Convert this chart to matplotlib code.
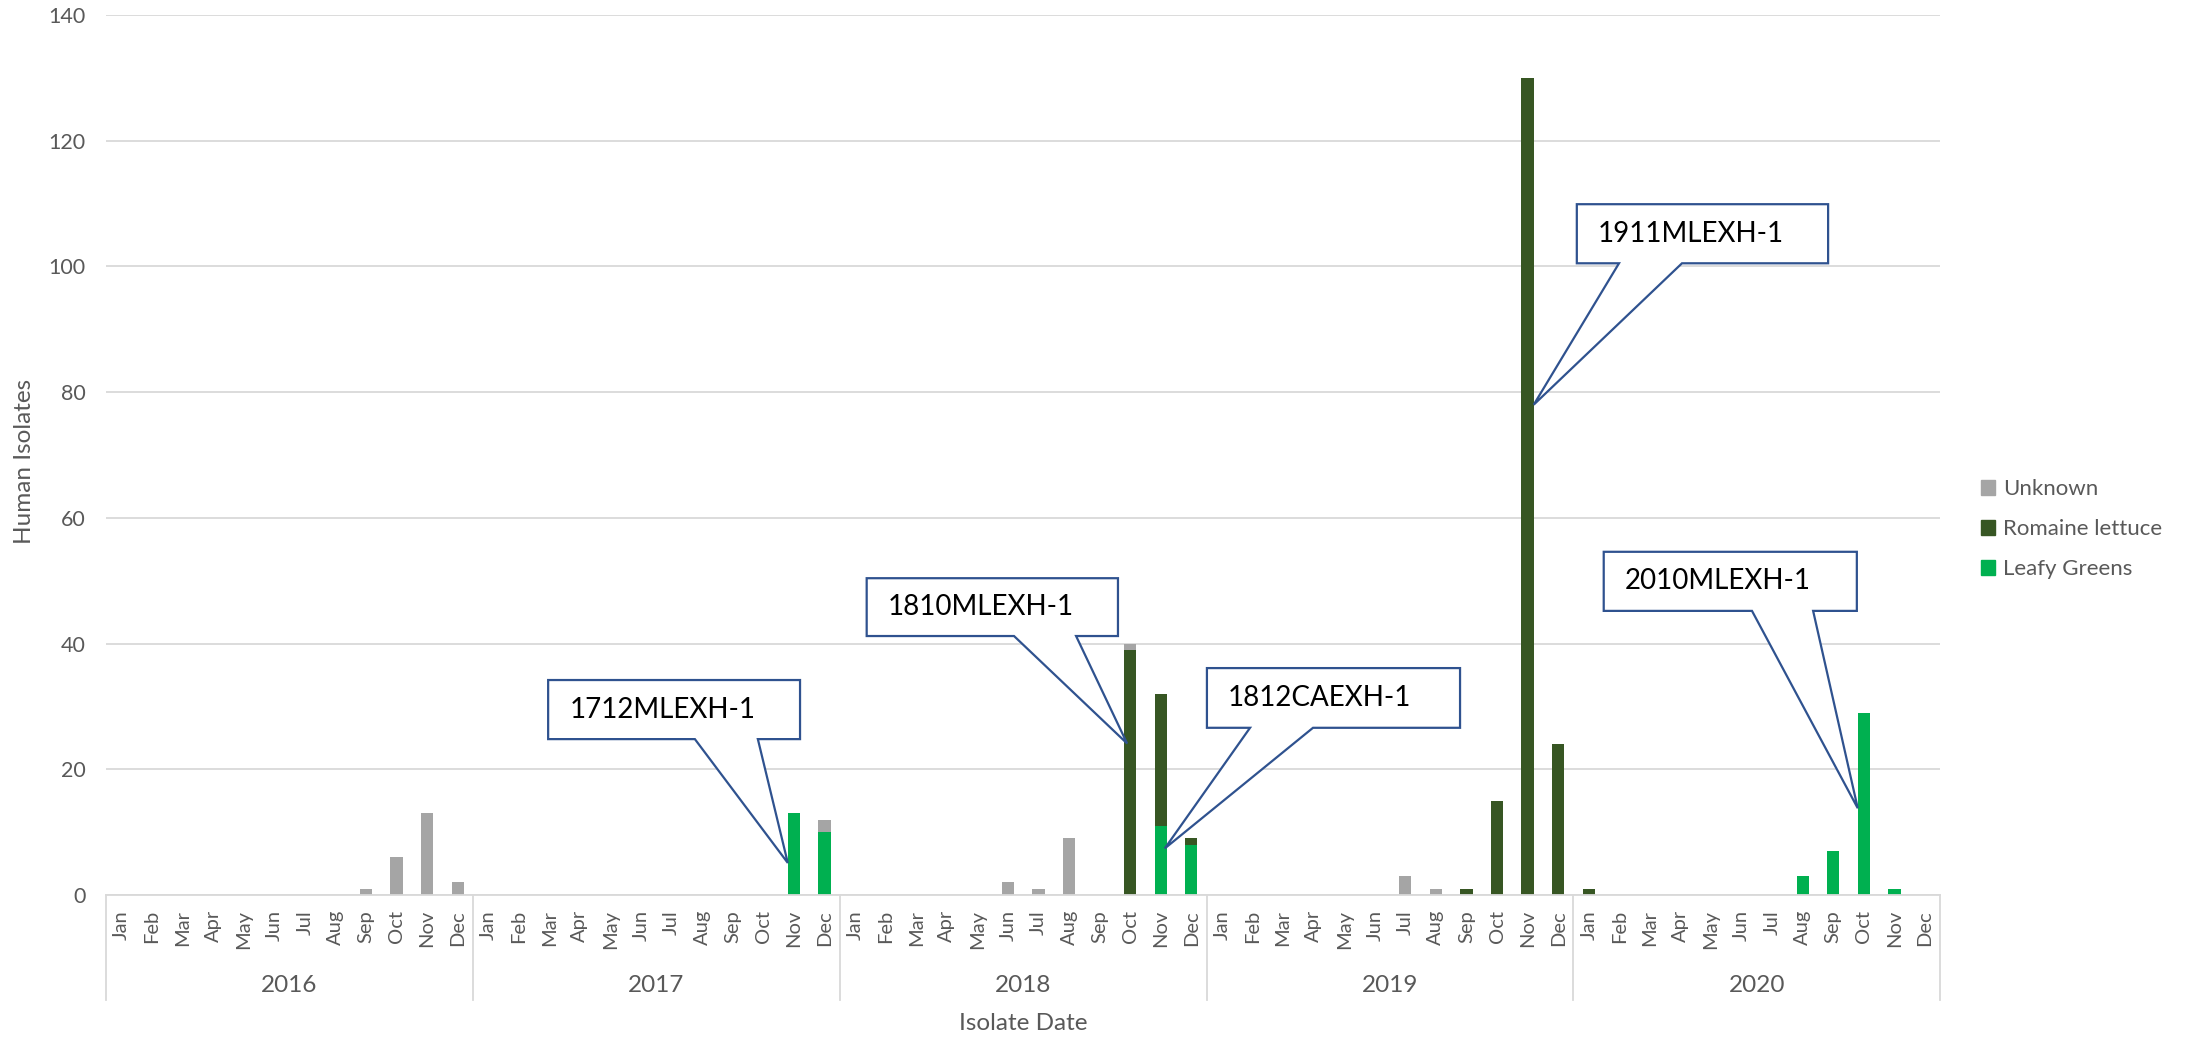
import numpy as np
import matplotlib
matplotlib.use("Agg")
import matplotlib.pyplot as plt
from matplotlib.patches import Polygon, Patch
from matplotlib.transforms import blended_transform_factory

plt.rcParams['font.family'] = ['Lato', 'DejaVu Sans']

# datos por mes, ene 2016 .. dic 2020
years = ['2016', '2017', '2018', '2019', '2020']
months = ['Jan', 'Feb', 'Mar', 'Apr', 'May', 'Jun',
          'Jul', 'Aug', 'Sep', 'Oct', 'Nov', 'Dec']

leafy_greens = (
    [0, 0, 0, 0, 0, 0, 0, 0, 0, 0, 0, 0] +      # 2016
    [0, 0, 0, 0, 0, 0, 0, 0, 0, 0, 13, 10] +    # 2017
    [0, 0, 0, 0, 0, 0, 0, 0, 0, 0, 11, 8] +     # 2018
    [0, 0, 0, 0, 0, 0, 0, 0, 0, 0, 0, 0] +      # 2019
    [0, 0, 0, 0, 0, 0, 0, 3, 7, 29, 1, 0]       # 2020
)
romaine = (
    [0, 0, 0, 0, 0, 0, 0, 0, 0, 0, 0, 0] +
    [0, 0, 0, 0, 0, 0, 0, 0, 0, 0, 0, 0] +
    [0, 0, 0, 0, 0, 0, 0, 0, 0, 39, 21, 1] +
    [0, 0, 0, 0, 0, 0, 0, 0, 1, 15, 130, 24] +
    [1, 0, 0, 0, 0, 0, 0, 0, 0, 0, 0, 0]
)
unknown = (
    [0, 0, 0, 0, 0, 0, 0, 0, 1, 6, 13, 2] +
    [0, 0, 0, 0, 0, 0, 0, 0, 0, 0, 0, 2] +
    [0, 0, 0, 0, 0, 2, 1, 9, 0, 1, 0, 0] +
    [0, 0, 0, 0, 0, 0, 3, 1, 0, 0, 0, 0] +
    [0, 0, 0, 0, 0, 0, 0, 0, 0, 0, 0, 0]
)

# callouts: texto, punta (x, y), caja (x0, x1, y_abajo, y_arriba), base de la cuña (xa, xb)
callout_labels = ['1712MLEXH-1', '1810MLEXH-1', '1812CAEXH-1', '1911MLEXH-1', '2010MLEXH-1']
callout_tips = [(21.8, 5.1), (32.9, 24.1), (34.13, 7.4), (46.2, 78.0), (56.8, 13.8)]
callout_boxes = [(13.96, 22.20, 24.8, 34.2), (24.38, 32.60, 41.2, 50.4),
                 (35.51, 43.79, 26.6, 36.1), (47.61, 55.83, 100.5, 109.9),
                 (48.49, 56.77, 45.2, 54.6)]
callout_bases = [(18.76, 20.82), (29.20, 31.23), (36.92, 38.98),
                 (48.99, 51.05), (53.34, 55.34)]

c_unknown = '#A5A5A5'
c_romaine = '#375623'
c_leafy = '#00B050'
c_text = '#595959'
c_grid = '#D9D9D9'
c_call = '#2F528F'

W, H = 2190, 1040
fig = plt.figure(figsize=(W / 100, H / 100), dpi=100)
ax = fig.add_axes([106.1 / W, 1 - 895 / H, (1940.3 - 106.1) / W, 880 / H])

x = np.arange(len(leafy_greens))
leafy = np.array(leafy_greens)
rom = np.array(romaine)
unk = np.array(unknown)
bw = 0.4
ax.bar(x, leafy, bw, color=c_leafy, zorder=2)
ax.bar(x, rom, bw, bottom=leafy, color=c_romaine, zorder=2)
ax.bar(x, unk, bw, bottom=leafy + rom, color=c_unknown, zorder=2)

ax.set_xlim(-0.5, len(x) - 0.5)
ax.set_ylim(0, 140)
ax.set_yticks(np.arange(0, 141, 20))
ax.yaxis.grid(True, color=c_grid, lw=1.3, zorder=0)
ax.set_axisbelow(True)
for s in ['top', 'right', 'left']:
    ax.spines[s].set_visible(False)
ax.spines['bottom'].set_color(c_grid)
ax.spines['bottom'].set_linewidth(1.3)
ax.tick_params(axis='y', length=0, pad=15, labelsize=15.5, labelcolor=c_text)
ax.set_xticks([])

# etiquetas de meses y años
trans = blended_transform_factory(ax.transData, ax.transAxes)
for i in x:
    ax.text(i, -15 / 880, months[i % 12], transform=trans, rotation=90,
            ha='center', va='top', fontsize=14.5, color=c_text)
for k, yr in enumerate(years):
    ax.text(k * 12 + 5.5, -91 / 880, yr, transform=trans, ha='center',
            va='center', fontsize=17.5, color=c_text)
for k in range(len(years) + 1):
    ax.plot([k * 12 - 0.5] * 2, [0, -105 / 880], transform=trans,
            color=c_grid, lw=1.3, clip_on=False)

fig.text(25 / W, 1 - 461 / H, 'Human Isolates', rotation=90, ha='center',
         va='center', fontsize=17.5, color=c_text)
fig.text(1023 / W, 1 - 1024 / H, 'Isolate Date', ha='center', va='center',
         fontsize=17.5, color=c_text)

# callouts
for lab, tip, box, base in zip(callout_labels, callout_tips, callout_boxes, callout_bases):
    x0, x1, y0, y1 = box
    pts = [(x0, y1), (x1, y1), (x1, y0), (base[1], y0), tip, (base[0], y0), (x0, y0)]
    ax.add_patch(Polygon(pts, closed=True, facecolor='white', edgecolor=c_call,
                         lw=1.6, zorder=5, clip_on=False))
    ax.text(x0 + 0.69, (y0 + y1) / 2, lab, ha='left', va='center',
            fontsize=20, color='black', zorder=6)

handles = [Patch(color=c_unknown), Patch(color=c_romaine), Patch(color=c_leafy)]
fig.legend(handles, ['Unknown', 'Romaine lettuce', 'Leafy Greens'],
           loc='center left', bbox_to_anchor=(1981 / W, 1 - 529 / H),
           frameon=False, fontsize=16, labelcolor=c_text, handlelength=0.65,
           handleheight=0.65, handletextpad=0.35, labelspacing=0.9, borderpad=0,
           borderaxespad=0)

fig.savefig('out.png', dpi=100)
